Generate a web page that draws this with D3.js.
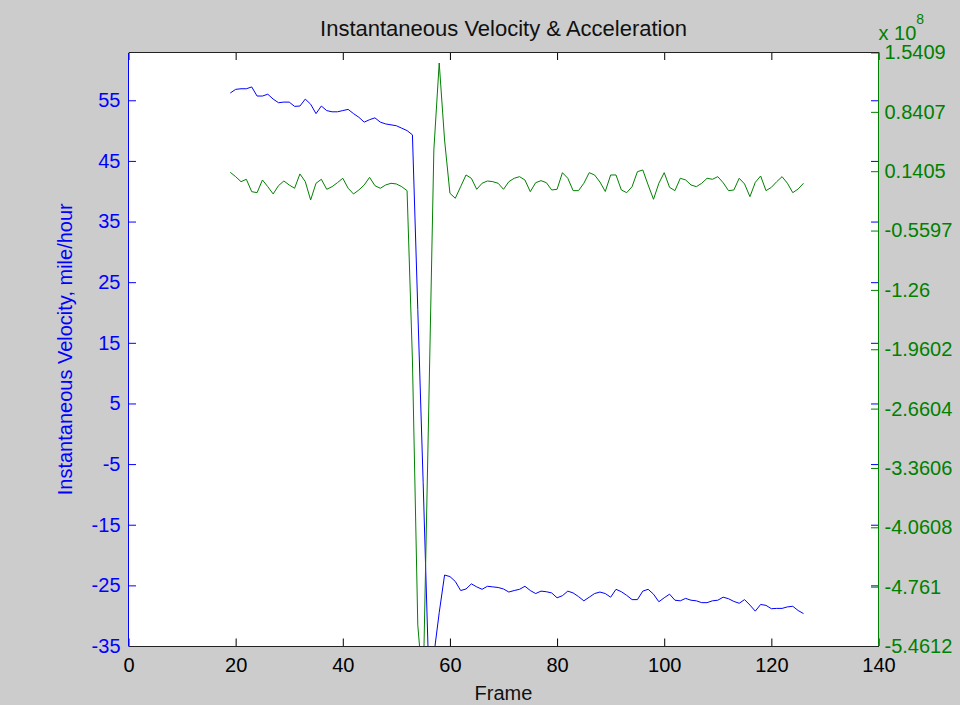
<!DOCTYPE html>
<html>
<head>
<meta charset="utf-8">
<script src="https://cdn.jsdelivr.net/npm/d3@7"></script>
<style>
  body { margin: 0; background: #cccccc; }
  svg { display: block; font-family: "Liberation Sans", Arial, sans-serif; }
</style>
</head>
<body>
<div id="chart"></div>
<script>
// Data
const firstFrame = 19;
const velocity = [
  56.2, 56.8, 56.9, 56.9, 57.2, 55.7, 55.7, 56.0, 55.2, 54.6,
  54.7, 54.7, 54.0, 54.05, 55.2, 54.35, 52.8, 54.05, 53.3, 53.1,
  53.1, 53.3, 53.5, 52.8, 52.2, 51.4, 51.8, 52.1, 51.4, 51.1,
  50.95, 50.8, 50.4, 50.0, 49.3, 20.5, -8.0, -38.0, -36.5, -29.5,
  -23.3, -23.55, -24.35, -25.85, -25.6, -24.75, -25.25, -25.65, -25.15, -25.25,
  -25.35, -25.6, -26.1, -25.85, -25.65, -25.15, -25.85, -26.35, -25.95, -26.05,
  -26.25, -27.05, -26.7, -25.95, -26.25, -26.85, -27.55, -26.95, -26.35, -26.1,
  -26.35, -26.95, -25.65, -26.05, -26.65, -27.35, -27.35, -25.95, -25.65, -26.45,
  -27.7, -27.05, -26.45, -27.45, -27.55, -27.15, -27.45, -27.55, -27.85, -27.85,
  -27.55, -27.45, -26.95, -27.2, -27.65, -27.95, -27.35, -28.25, -29.25, -28.15,
  -28.3, -28.85, -28.8, -28.8, -28.55, -28.45, -29.15, -29.65
];
// acceleration, in units of 10^8
const acceleration = [
  0.127, 0.076, 0.017, 0.045, -0.101, -0.113, 0.037, -0.042, -0.128, -0.030,
  0.025, -0.022, -0.061, 0.108, 0.017, -0.199, -0.002, 0.045, -0.073, -0.042,
  0.005, 0.057, -0.061, -0.128, -0.081, -0.022, 0.068, -0.030, -0.061, -0.022,
  -0.002, -0.010, -0.042, -0.089, -2.087, -5.214, -5.980, -2.795, 0.391, 1.417,
  0.509, -0.120, -0.179, -0.042, 0.096, 0.057, -0.073, -0.002, 0.025, 0.017,
  -0.002, -0.073, 0.017, 0.057, 0.076, 0.037, -0.101, 0.005, 0.029, 0.005,
  -0.081, -0.073, 0.123, 0.057, -0.089, -0.089, -0.002, 0.123, 0.096, 0.013,
  -0.099, 0.096, 0.096, -0.081, -0.113, -0.042, 0.135, 0.155, -0.022, -0.191,
  -0.002, 0.123, -0.050, -0.089, 0.057, 0.037, -0.022, -0.042, -0.002, 0.057,
  0.045, 0.076, 0.005, -0.089, -0.081, 0.057, -0.010, -0.160, 0.009, 0.084,
  -0.089, -0.050, 0.017, 0.076, -0.002, -0.113, -0.069, -0.002
];
const frames = velocity.map((v, i) => firstFrame + i);

const xTicks = [0, 20, 40, 60, 80, 100, 120, 140];
const leftTicks = [55, 45, 35, 25, 15, 5, -5, -15, -25, -35];
const rightTicks = [1.5409, 0.8407, 0.1405, -0.5597, -1.26, -1.9602, -2.6604, -3.3606, -4.0608, -4.761, -5.4612];
const xDomain = [0, 140];
const leftDomain = [-35, 62.88];
const rightDomain = [-5.4612, 1.5409];

// Layout
const width = 960, height = 705;
const plot = { left: 128.5, right: 878.5, top: 52.5, bottom: 646 };
const TICK = 7.5;
const BLUE = "#0000ff", GREEN = "#008000", DARK = "#000000";

const svg = d3.select("#chart").append("svg")
  .attr("width", width)
  .attr("height", height);

svg.append("rect").attr("width", width).attr("height", height).attr("fill", "#cccccc");
svg.append("rect")
  .attr("x", plot.left).attr("y", plot.top)
  .attr("width", plot.right - plot.left).attr("height", plot.bottom - plot.top)
  .attr("fill", "#ffffff");

const x = d3.scaleLinear().domain(xDomain).range([plot.left, plot.right]);
const yL = d3.scaleLinear().domain(leftDomain).range([plot.bottom, plot.top]);
const yR = d3.scaleLinear().domain(rightDomain).range([plot.bottom, plot.top]);

svg.append("clipPath").attr("id", "clip")
  .append("rect")
  .attr("x", plot.left).attr("y", plot.top)
  .attr("width", plot.right - plot.left).attr("height", plot.bottom - plot.top);

// Lines
const lineL = d3.line().x((d, i) => x(frames[i])).y(d => yL(d));
const lineR = d3.line().x((d, i) => x(frames[i])).y(d => yR(d));

svg.append("path")
  .datum(velocity)
  .attr("clip-path", "url(#clip)")
  .attr("fill", "none")
  .attr("stroke", BLUE)
  .attr("stroke-width", 1)
  .attr("d", lineL);

svg.append("path")
  .datum(acceleration)
  .attr("clip-path", "url(#clip)")
  .attr("fill", "none")
  .attr("stroke", GREEN)
  .attr("stroke-width", 1)
  .attr("d", lineR);

// Axes (MATLAB style: ticks point inward, plain hyphen minus)
const plain = d => String(d);

function styleAxis(g, color, size) {
  g.select(".domain").remove();
  g.selectAll(".tick line").attr("stroke", color);
  g.selectAll(".tick text").attr("fill", color).style("font-size", size + "px");
}

svg.append("g")
  .attr("transform", `translate(0,${plot.bottom})`)
  .call(d3.axisBottom(x).tickValues(xTicks).tickSize(-TICK).tickPadding(12).tickFormat(plain))
  .call(g => styleAxis(g, DARK, 20));

svg.append("g")
  .attr("transform", `translate(0,${plot.top})`)
  .call(d3.axisTop(x).tickValues(xTicks).tickSize(-TICK).tickFormat(""))
  .call(g => styleAxis(g, DARK, 20));

svg.append("g")
  .attr("transform", `translate(${plot.left},0)`)
  .call(d3.axisLeft(yL).tickValues(leftTicks).tickSize(-TICK).tickPadding(8).tickFormat(plain))
  .call(g => styleAxis(g, BLUE, 20));

svg.append("g")
  .attr("transform", `translate(${plot.right},0)`)
  .call(d3.axisRight(yL).tickValues(leftTicks).tickSize(-TICK).tickFormat(""))
  .call(g => styleAxis(g, BLUE, 20));

svg.append("g")
  .attr("transform", `translate(${plot.right},0)`)
  .call(d3.axisRight(yR).tickValues(rightTicks).tickSize(-TICK).tickPadding(6).tickFormat(plain))
  .call(g => styleAxis(g, GREEN, 20));

// Box
const box = svg.append("g").attr("stroke-width", 1).attr("shape-rendering", "crispEdges");
box.append("line").attr("x1", plot.left).attr("x2", plot.right).attr("y1", plot.top).attr("y2", plot.top).attr("stroke", "#222");
box.append("line").attr("x1", plot.left).attr("x2", plot.right).attr("y1", plot.bottom).attr("y2", plot.bottom).attr("stroke", "#222");
box.append("line").attr("x1", plot.left).attr("x2", plot.left).attr("y1", plot.top).attr("y2", plot.bottom).attr("stroke", BLUE);
box.append("line").attr("x1", plot.right).attr("x2", plot.right).attr("y1", plot.top).attr("y2", plot.bottom).attr("stroke", GREEN);

// Labels
svg.append("text")
  .attr("x", (plot.left + plot.right) / 2)
  .attr("y", 36)
  .attr("text-anchor", "middle")
  .style("font-size", "22px")
  .attr("fill", "#111")
  .text("Instantaneous Velocity & Acceleration");

svg.append("text")
  .attr("x", (plot.left + plot.right) / 2)
  .attr("y", 700)
  .attr("text-anchor", "middle")
  .style("font-size", "20px")
  .attr("fill", "#111")
  .text("Frame");

svg.append("text")
  .attr("transform", `translate(72,${(plot.top + plot.bottom) / 2}) rotate(-90)`)
  .attr("text-anchor", "middle")
  .style("font-size", "20px")
  .attr("fill", BLUE)
  .text("Instantaneous Velocity, mile/hour");

const expLabel = svg.append("text")
  .attr("x", plot.right)
  .attr("y", 40)
  .style("font-size", "20px")
  .attr("fill", GREEN);
expLabel.append("tspan").text("x 10");
expLabel.append("tspan").attr("dy", -16).style("font-size", "14px").text("8");
</script>
</body>
</html>
